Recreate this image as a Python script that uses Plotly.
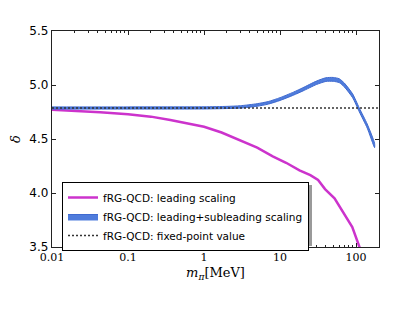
import numpy as np
import plotly.graph_objects as go

# Data
m_lead = [0.01, 0.02, 0.043, 0.1, 0.2, 0.36, 0.6, 1, 1.7, 3, 5, 8, 12, 18, 25, 31.6, 39, 52, 68, 89, 112]
d_lead = [4.770, 4.762, 4.747, 4.729, 4.707, 4.676, 4.648, 4.614, 4.560, 4.490, 4.420, 4.340, 4.280, 4.210, 4.165, 4.120, 4.036, 3.950, 3.820, 3.685, 3.490]

m_sub = [0.01, 0.1, 1, 2, 3, 5, 7, 10, 15, 20, 30, 40, 50, 60, 70, 90, 110, 140, 175]
d_sub = [4.787, 4.787, 4.788, 4.792, 4.797, 4.815, 4.835, 4.870, 4.920, 4.960, 5.020, 5.050, 5.052, 5.040, 5.000, 4.900, 4.770, 4.620, 4.440]
d_err = [0.010, 0.010, 0.010, 0.010, 0.011, 0.012, 0.012, 0.013, 0.014, 0.015, 0.016, 0.017, 0.018, 0.018, 0.018, 0.018, 0.018, 0.019, 0.020]

fixed_point = 4.787
x_span = [0.01, 200]

y_ticks = [3.5, 4.0, 4.5, 5.0, 5.5]
y_ticklabels = ["3.5", "4.0", "4.5", "5.0", "5.5"]
x_ticks = [0.01, 0.1, 1, 10, 100]
x_ticklabels = ["0.01", "0.1", "1", "10", "100"]
x_minor = [k * 10.0 ** e for e in range(-2, 3) for k in range(2, 10) if k * 10.0 ** e <= 200]

upper = [d + e for d, e in zip(d_sub, d_err)]
lower = [d - e for d, e in zip(d_sub, d_err)]

fig = go.Figure()
fig.add_trace(go.Scatter(
    x=m_lead, y=d_lead, mode="lines", line=dict(color="#cc33cc", width=2.5),
    name="fRG-QCD: leading scaling"))
fig.add_trace(go.Scatter(
    x=m_sub + m_sub[::-1], y=upper + lower[::-1], fill="toself", mode="lines",
    line=dict(color="#3f6ad0", width=1, shape="spline", smoothing=0.6),
    fillcolor="#4f7cdc",
    name="fRG-QCD: leading+subleading scaling"))
fig.add_trace(go.Scatter(
    x=x_span, y=[fixed_point, fixed_point], mode="lines",
    line=dict(color="#333333", width=1.5, dash="2px,2px"),
    name="fRG-QCD: fixed-point value"))
# invisible trace to carry the minor-tick axis
fig.add_trace(go.Scatter(x=x_span, y=[fixed_point, fixed_point], xaxis="x2",
                         mode="lines", line=dict(width=0), showlegend=False,
                         hoverinfo="skip"))

# legend geometry (paper coords) and its shadow
PW, PH = 327, 216
lx0, ly1 = 10 / PW, (247 - 182) / PH
lw, lh = 247, 61
sx, sy = 3 / PW, 3 / PH
fig.add_shape(type="rect", xref="paper", yref="paper",
              x0=lx0 + sx, x1=lx0 + lw / PW + sx, y0=ly1 - lh / PH - sy, y1=ly1 - sy,
              fillcolor="#9a9a9a", line=dict(width=0), layer="above")

# page body has an 8px margin: offset figure margins accordingly
fig.update_layout(
    width=391, height=302,
    margin=dict(l=44, r=20, t=23, b=63),
    paper_bgcolor="white", plot_bgcolor="white",
    showlegend=True,
    legend=dict(x=lx0, y=ly1, xanchor="left", yanchor="top",
                bgcolor="white", bordercolor="black", borderwidth=1,
                font=dict(family="DejaVu Sans", size=10.5, color="black"),
                itemwidth=30, tracegroupgap=0),
    xaxis=dict(type="log", range=[-2, np.log10(200)], automargin=False,
               tickvals=x_ticks, ticktext=x_ticklabels,
               ticks="inside", ticklen=4, tickcolor="#222",
               showline=True, linecolor="#222", linewidth=1.3, mirror="ticks",
               showgrid=False, zeroline=False,
               tickfont=dict(family="DejaVu Serif", size=11, color="black"),
               title=dict(text="<i>m</i><sub><i>π</i></sub>[MeV]",
                          font=dict(family="DejaVu Serif", size=13, color="black"),
                          standoff=4)),
    xaxis2=dict(type="log", range=[-2, np.log10(200)], overlaying="x",
                matches="x", automargin=False,
                tickvals=x_minor, showticklabels=False,
                ticks="inside", ticklen=2, tickcolor="#222",
                mirror="ticks", showline=False, showgrid=False, zeroline=False),
    yaxis=dict(range=[3.5, 5.5], tickvals=y_ticks, ticktext=y_ticklabels,
               automargin=False,
               ticks="inside", ticklen=4, tickcolor="#222",
               showline=True, linecolor="#222", linewidth=1.3, mirror="ticks",
               showgrid=False, zeroline=False,
               tickfont=dict(family="DejaVu Sans", size=12, color="black"),
               title=dict(text="<i>δ</i>",
                          font=dict(family="DejaVu Serif", size=13, color="black"),
                          standoff=8)),
)

fig.write_html("out.html")
